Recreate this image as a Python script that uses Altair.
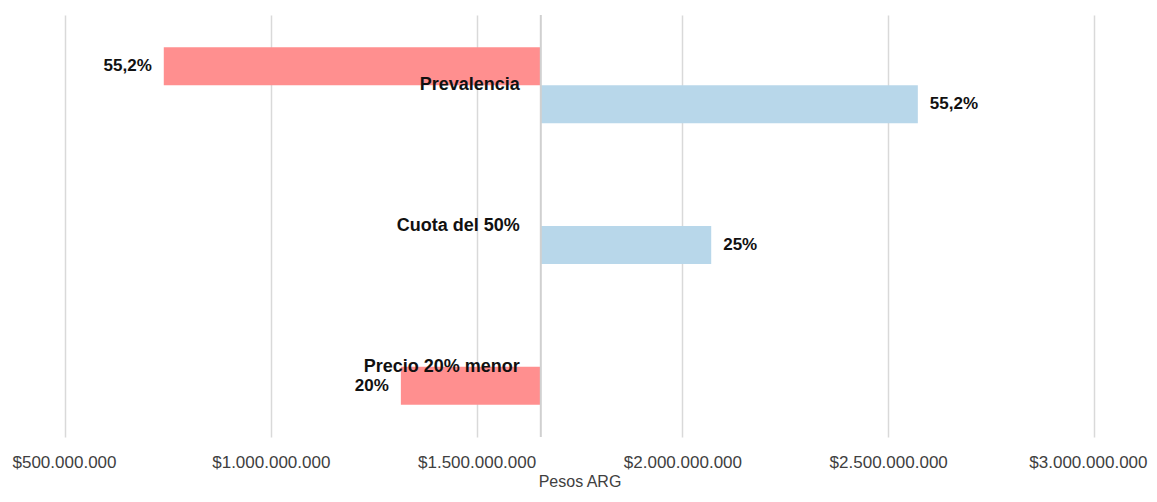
import altair as alt
import pandas as pd

categories = ["Prevalencia", "Cuota del 50%", "Precio 20% menor"]
low_values = [740_000_000, None, 1_316_000_000]
high_values = [2_572_000_000, 2_070_000_000, None]
low_labels = ["55,2%", "", "20%"]
high_labels = ["55,2%", "25%", ""]
# slot (upper/lower half of each category band) used by the low bar of each category
low_slots = ["arriba", "", "abajo"]
base_value = 1_656_000_000
tick_values = [500_000_000, 1_000_000_000, 1_500_000_000, 2_000_000_000, 2_500_000_000, 3_000_000_000]

rows = []
for c, lv, hv, ll, hl, ls in zip(categories, low_values, high_values, low_labels, high_labels, low_slots):
    if lv is not None:
        rows.append({"cat": c, "serie": "bajo", "slot": ls, "value": lv, "base": base_value, "label": ll})
    if hv is not None:
        rows.append({"cat": c, "serie": "alto", "slot": "abajo", "value": hv, "base": base_value, "label": hl})
df = pd.DataFrame(rows)
cat_df = pd.DataFrame({"cat": categories, "base": [base_value] * len(categories)})
base_df = pd.DataFrame({"base": [base_value]})

FONT = "Liberation Sans"

xscale = alt.Scale(domain=[500_000_000, 3_000_000_000], nice=False, zero=False)
yscale = alt.Scale(domain=categories, paddingInner=0.46, paddingOuter=0.23)
yoff = alt.YOffset("slot:N", scale=alt.Scale(domain=["arriba", "abajo"], paddingInner=0, paddingOuter=0))

xaxis = alt.Axis(
    values=tick_values,
    labelExpr="'$' + replace(format(datum.value, ',.0f'), regexp(',', 'g'), '.')",
    title="Pesos ARG",
    grid=True, gridColor="#d9d9d9", gridWidth=1.5,
    domain=False, ticks=False,
    labelFlush=True, labelFlushOffset=53, labelOverlap=False,
    labelFont=FONT, labelFontSize=17, labelColor="#404040", labelPadding=17,
    titleFont=FONT, titleFontSize=16, titleFontWeight="normal", titleColor="#404040", titlePadding=3,
)

bars = alt.Chart(df).mark_bar().encode(
    x=alt.X("value:Q", scale=xscale, axis=xaxis),
    x2="base:Q",
    y=alt.Y("cat:N", scale=yscale, axis=None),
    yOffset=yoff,
    color=alt.Color("serie:N", scale=alt.Scale(domain=["bajo", "alto"], range=["#ff8f8f", "#b8d7ea"]), legend=None),
)

base_rule = alt.Chart(base_df).mark_rule(color="#d0d0d0", strokeWidth=2).encode(x=alt.X("base:Q", scale=xscale))

low_text = alt.Chart(df[df.serie == "bajo"]).mark_text(
    align="right", baseline="middle", dx=-12, font=FONT, fontSize=17, fontWeight="bold", color="#111111"
).encode(
    x=alt.X("value:Q", scale=xscale), y=alt.Y("cat:N", scale=yscale), yOffset=yoff, text="label:N"
)

high_text = alt.Chart(df[df.serie == "alto"]).mark_text(
    align="left", baseline="middle", dx=12, font=FONT, fontSize=17, fontWeight="bold", color="#111111"
).encode(
    x=alt.X("value:Q", scale=xscale), y=alt.Y("cat:N", scale=yscale), yOffset=yoff, text="label:N"
)

cat_text = alt.Chart(cat_df).mark_text(
    align="right", baseline="middle", dx=-21, font=FONT, fontSize=18, fontWeight="bold", color="#111111"
).encode(
    x=alt.X("base:Q", scale=xscale), y=alt.Y("cat:N", scale=yscale), text="cat:N"
)

chart = alt.layer(bars, base_rule, low_text, high_text, cat_text).properties(
    width=1029, height=422,
    autosize=alt.AutoSizeParams(type="none"),
    padding={"left": 57, "top": 7, "right": 55, "bottom": 55},
).configure_view(stroke=None)

chart.save("out.html", embed_options={"renderer": "svg", "actions": False})
